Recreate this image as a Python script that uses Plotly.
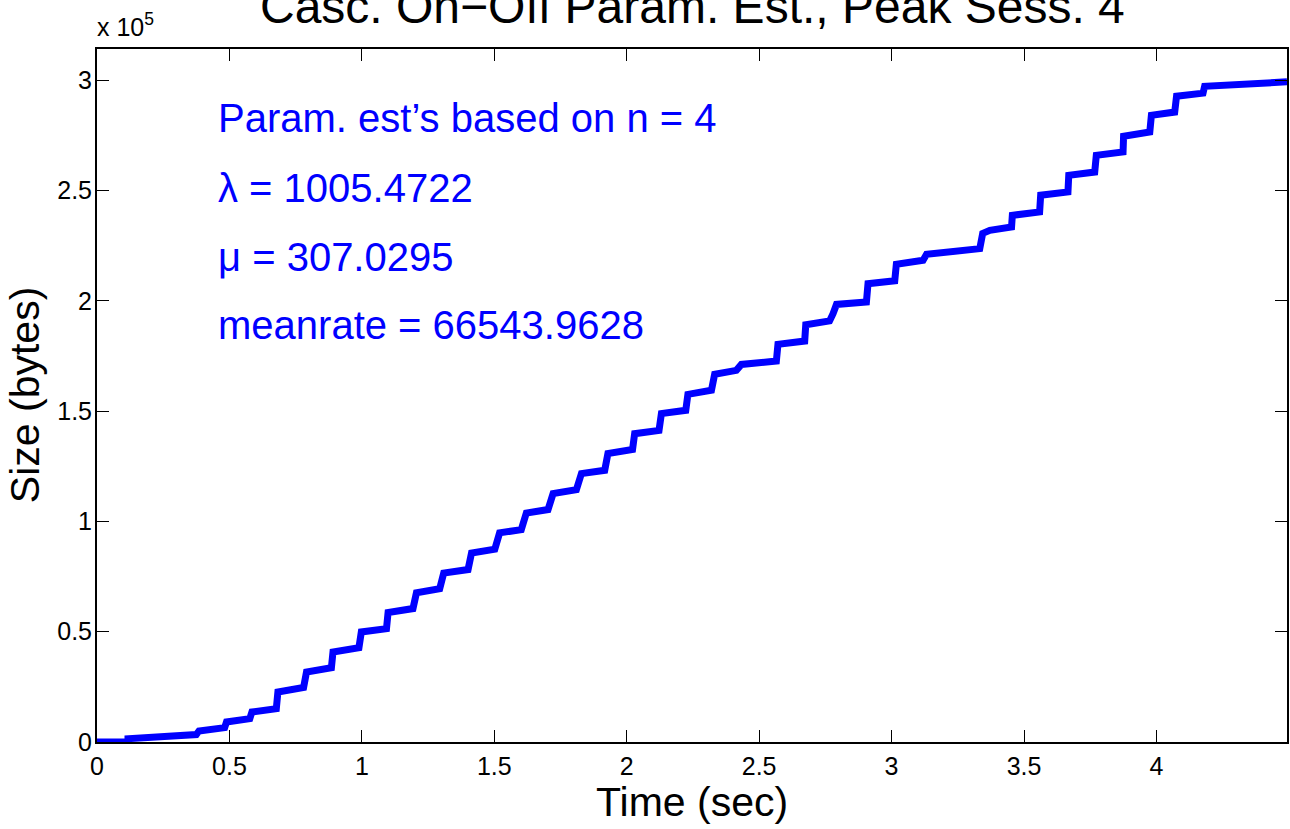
import plotly.graph_objects as go

# Cumulative bytes vs time
time_sec = [
    0.000, 0.117, 0.117, 0.375, 0.385, 0.482, 0.489, 0.577, 0.585, 0.677,
    0.683, 0.780, 0.791, 0.885, 0.891, 0.989, 0.998, 1.093, 1.099, 1.193,
    1.206, 1.294, 1.309, 1.401, 1.414, 1.502, 1.520, 1.602, 1.621, 1.703,
    1.722, 1.810, 1.829, 1.917, 1.929, 2.022, 2.030, 2.122, 2.131, 2.223,
    2.231, 2.320, 2.332, 2.414, 2.433, 2.565, 2.571, 2.672, 2.676, 2.766,
    2.779, 2.792, 2.905, 2.911, 3.012, 3.018, 3.119, 3.132, 3.333, 3.344,
    3.371, 3.453, 3.456, 3.559, 3.563, 3.666, 3.669, 3.767, 3.773, 3.874,
    3.876, 3.975, 3.981, 4.069, 4.076, 4.176, 4.182, 4.390, 4.403, 4.493,
]
size_bytes = [
    0, 0, 1500, 3400, 5000, 6500, 9100, 10600, 13600, 15100,
    22700, 24700, 31700, 33700, 40800, 42800, 49900, 51400, 58700, 60500,
    67600, 69500, 76600, 78200, 85700, 87400, 94800, 96300, 103800, 105400,
    112600, 114400, 121700, 123200, 130800, 132600, 139800, 141300, 148900, 150400,
    157600, 159500, 166700, 168500, 171200, 172700, 180300, 181800, 189200, 190900,
    194200, 198400, 199500, 207800, 209100, 216600, 218400, 221100, 223700, 230600,
    232000, 233500, 238800, 240300, 247900, 249400, 256900, 258400, 266000, 267500,
    274600, 276600, 284100, 285600, 292800, 294200, 297300, 298800, 299200, 299300,
]

x_tick_vals = [0, 0.5, 1, 1.5, 2, 2.5, 3, 3.5, 4]
x_tick_text = ["0", "0.5", "1", "1.5", "2", "2.5", "3", "3.5", "4"]
y_tick_vals = [0, 50000, 100000, 150000, 200000, 250000, 300000]
y_tick_text = ["0", "0.5", "1", "1.5", "2", "2.5", "3"]

info_lines = [
    "Param. est\u2019s based on n = 4",
    "\u03bb = 1005.4722",
    "\u03bc = 307.0295",
    "meanrate = 66543.9628",
]

FONT = "Liberation Sans, Arial, Helvetica, sans-serif"

fig = go.Figure(
    go.Scatter(
        x=time_sec,
        y=size_bytes,
        mode="lines",
        line=dict(color="#0000ff", width=7),
        hoverinfo="x+y",
    )
)

axis_common = dict(
    showgrid=False,
    zeroline=False,
    showline=True,
    linecolor="black",
    linewidth=2,
    mirror="ticks",
    ticks="inside",
    ticklen=12,
    tickwidth=1,
    tickcolor="black",
    tickfont=dict(family=FONT, size=25, color="black"),
    tickmode="array",
)

fig.update_xaxes(
    range=[0, 4.493],
    tickvals=x_tick_vals,
    ticktext=x_tick_text,
    ticklabelstandoff=1,
    **axis_common,
)
fig.update_yaxes(
    range=[0, 314200],
    tickvals=y_tick_vals,
    ticktext=y_tick_text,
    ticklabelstandoff=-2,
    **axis_common,
)

annotations = [
    # title
    dict(text="Casc. On\u2212Off Param. Est., Peak Sess. 4", x=0.5, y=1.0613,
         xanchor="center", yanchor="middle", font=dict(size=48)),
    # axis labels
    dict(text="Time (sec)", x=0.5, y=-0.087,
         xanchor="center", yanchor="middle", font=dict(size=41)),
    dict(text="Size (bytes)", x=-0.0608, y=0.5, textangle=-90,
         xanchor="center", yanchor="middle", font=dict(size=41)),
    # exponent marker
    dict(text="x 10<sup>5</sup>", x=-0.002, y=1.0087, xanchor="left", yanchor="bottom",
         font=dict(size=25)),
]

# parameter text block
info_y = [0.900, 0.799, 0.7003, 0.6022]
for line, yy in zip(info_lines, info_y):
    annotations.append(
        dict(text=line, x=0.0998, y=yy, xanchor="left", yanchor="middle",
             font=dict(size=40, color="#0000ff"))
    )

for a in annotations:
    a.update(xref="paper", yref="paper", showarrow=False)
    a.setdefault("font", {})
    a["font"].setdefault("color", "black")
    a["font"]["family"] = FONT

fig.update_layout(
    width=1290,
    height=829,
    margin=dict(l=97, r=3, t=49, b=87, autoexpand=False),
    plot_bgcolor="white",
    paper_bgcolor="white",
    showlegend=False,
    annotations=annotations,
)

# drop the default body margin so the figure sits flush in the window
fig.write_html(
    "out.html",
    config={"displayModeBar": False},
    post_script="document.body.style.margin='0px';",
)
